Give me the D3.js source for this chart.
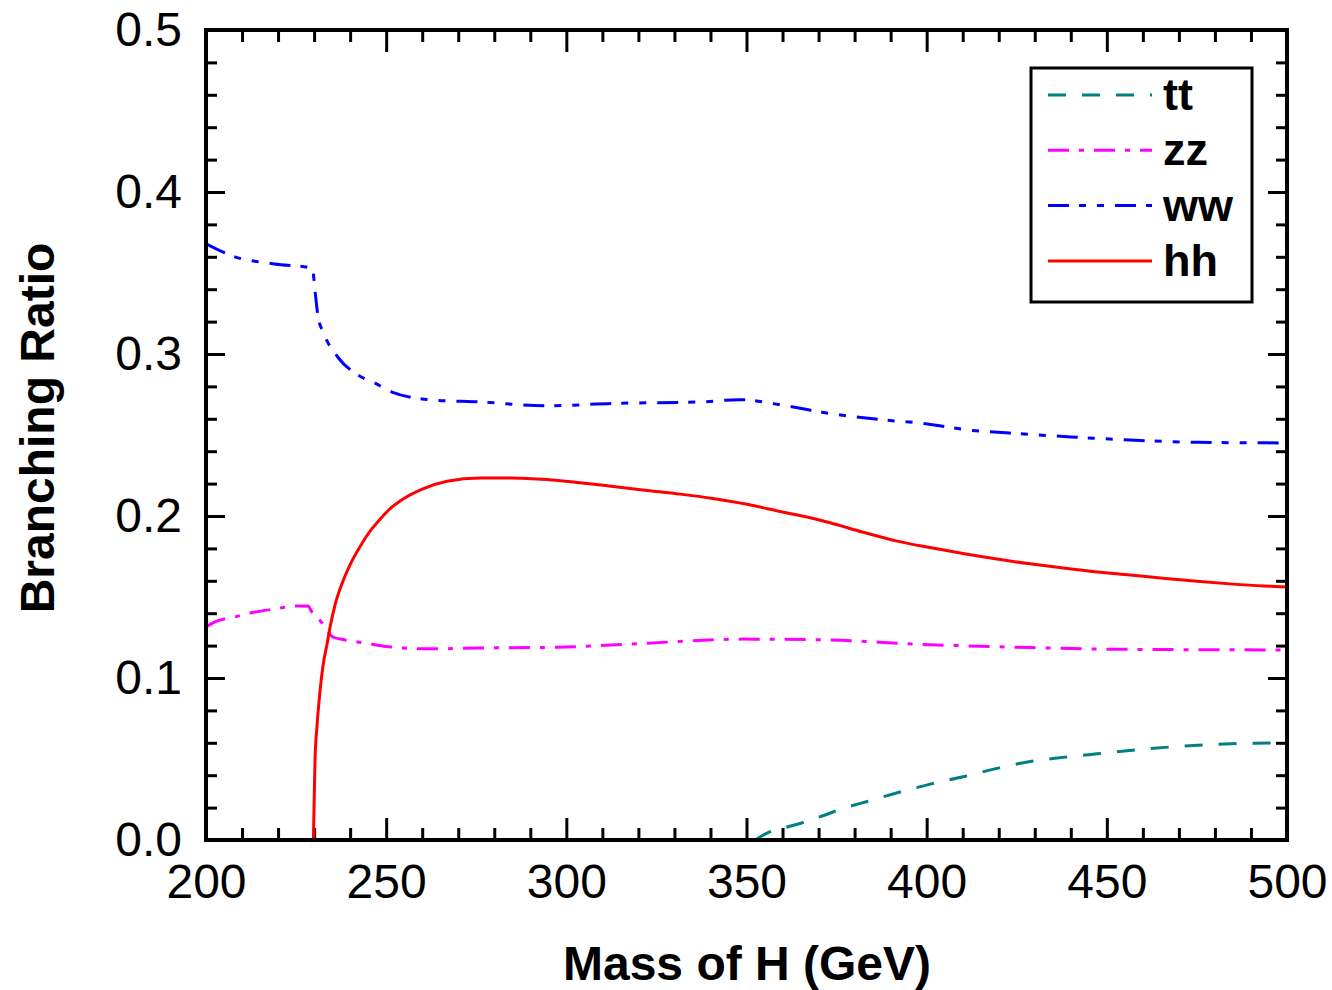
<!DOCTYPE html>
<html>
<head>
<meta charset="utf-8">
<script src="https://cdn.jsdelivr.net/npm/d3@7/dist/d3.min.js"></script>
<style>
  body { margin: 0; background: #fff; }
  text { font-family: "Liberation Sans", Arial, sans-serif; fill: #000; }
  .tick text { font-size: 48px; }
  .axis-title { font-size: 48px; font-weight: bold; }
  .legend-text { font-size: 45px; font-weight: bold; }
</style>
</head>
<body>
<div id="chart"></div>
<script>
// chart data
var ttMass = [352.4, 355.7, 361.3, 365.7, 371, 376.8, 383.5, 392.6, 401, 410.1, 419.5, 428.7, 437.9, 447.3, 457, 467.6, 479.5, 500];
var ttBR = [0, 0.0043, 0.008, 0.0108, 0.0148, 0.0195, 0.0238, 0.0296, 0.0345, 0.039, 0.0442, 0.0485, 0.051, 0.0532, 0.0554, 0.0574, 0.059, 0.0600];

var zzMass = [200, 202.5, 208, 213.6, 219.2, 224.7, 228.3, 229.4, 232.2, 233.6, 235.2, 238.6, 244.1, 249.7, 262.2, 276, 297.4, 322.4, 349, 373.2, 396, 425, 450, 500];
var zzBR = [0.1315, 0.1346, 0.1377, 0.1407, 0.1426, 0.1444, 0.1444, 0.1407, 0.134, 0.1296, 0.1253, 0.1235, 0.1216, 0.1195, 0.118, 0.1185, 0.119, 0.1215, 0.124, 0.1235, 0.121, 0.119, 0.1178, 0.1173];

var wwMass = [200, 208, 219, 229.5, 230.3, 231.1, 232.5, 236.6, 242.2, 246.9, 251.6, 263, 276, 294.6, 313, 337, 348, 361, 371, 388, 399, 411.5, 423, 440, 456.5, 475, 500];
var wwBR = [0.368, 0.360, 0.3556, 0.353, 0.338, 0.323, 0.3136, 0.298, 0.287, 0.282, 0.2765, 0.2716, 0.2704, 0.268, 0.2695, 0.2704, 0.2718, 0.268, 0.264, 0.2593, 0.2572, 0.2531, 0.2512, 0.2488, 0.2469, 0.2455, 0.2451];

var hhMass = [229.8, 230.25, 230.8, 231.6, 232.5, 233.6, 234.4, 235.8, 237.7, 240, 243, 246, 248.3, 251.1, 254.7, 260.2, 266.9, 276, 285.2, 294.6, 303.8, 313, 322.4, 331.6, 340.7, 350.2, 359.3, 368.5, 373.2, 382.3, 391.8, 400.9, 410.1, 419.5, 428.7, 437.9, 447.3, 456.5, 465.6, 475, 484.2, 493.4, 500];
var hhBR = [0, 0.049, 0.070, 0.091, 0.108, 0.121, 0.131, 0.145, 0.158, 0.170, 0.182, 0.192, 0.198, 0.2045, 0.2105, 0.2168, 0.2215, 0.2235, 0.2235, 0.2225, 0.2205, 0.2182, 0.2158, 0.2135, 0.2108, 0.2072, 0.2028, 0.1985, 0.1958, 0.190, 0.1845, 0.1805, 0.1768, 0.1734, 0.1705, 0.1679, 0.1655, 0.1636, 0.1616, 0.1597, 0.1581, 0.1568, 0.1562];

var seriesNames = ["tt", "zz", "ww", "hh"];
var seriesColors = ["#008080", "#ff00ff", "#0000ff", "#ff0000"];
var seriesDash = ["18,16", "21,10,5,10", "21,10,7,11,7,11", null];

var xMajorTicks = [200, 250, 300, 350, 400, 450, 500];
var yMajorTicks = [0.0, 0.1, 0.2, 0.3, 0.4, 0.5];

var svgWidth = 1332;
var svgHeight = 990;

var margin = { top: 30, right: 45, bottom: 150, left: 206 };
var width = svgWidth - margin.left - margin.right;
var height = svgHeight - margin.top - margin.bottom;

var svg = d3.select("#chart")
  .append("svg")
  .attr("width", svgWidth)
  .attr("height", svgHeight);

var chartGroup = svg.append("g")
  .attr("transform", `translate(${margin.left}, ${margin.top})`);

var xScale = d3.scaleLinear().domain([200, 500]).range([0, width]);
var yScale = d3.scaleLinear().domain([0, 0.5]).range([height, 0]);

var xMinorTicks = d3.range(200, 501, 10).filter(d => d % 50 !== 0);
var yMinorTicks = d3.range(0, 26).map(d => d * 0.02).filter((d, i) => i % 5 !== 0);

// inward ticks on all four sides
function tickAxis(axis, values, size, g) {
  g.call(axis.tickValues(values).tickSize(-size).tickFormat(""));
  g.select(".domain").remove();
  g.selectAll(".tick line").attr("stroke", "#000").attr("stroke-width", 3);
}

var bottomMinor = chartGroup.append("g").attr("transform", `translate(0, ${height})`);
tickAxis(d3.axisBottom(xScale), xMinorTicks, 12, bottomMinor);
var topMinor = chartGroup.append("g");
tickAxis(d3.axisTop(xScale), xMinorTicks, 12, topMinor);
var topMajor = chartGroup.append("g");
tickAxis(d3.axisTop(xScale), xMajorTicks, 22, topMajor);
var leftMinor = chartGroup.append("g");
tickAxis(d3.axisLeft(yScale), yMinorTicks, 11, leftMinor);
var rightMinor = chartGroup.append("g").attr("transform", `translate(${width}, 0)`);
tickAxis(d3.axisRight(yScale), yMinorTicks, 11, rightMinor);
var rightMajor = chartGroup.append("g").attr("transform", `translate(${width}, 0)`);
tickAxis(d3.axisRight(yScale), yMajorTicks, 19, rightMajor);

// labelled axes
var xAxis = chartGroup.append("g")
  .attr("transform", `translate(0, ${height})`)
  .call(d3.axisBottom(xScale).tickValues(xMajorTicks).tickSize(-22).tickPadding(24).tickFormat(d3.format("d")));
xAxis.select(".domain").remove();
xAxis.selectAll(".tick line").attr("stroke", "#000").attr("stroke-width", 3);
xAxis.selectAll(".tick text").attr("font-family", null).attr("font-size", null);

var yAxis = chartGroup.append("g")
  .call(d3.axisLeft(yScale).tickValues(yMajorTicks).tickSize(-19).tickPadding(24).tickFormat(d3.format(".1f")));
yAxis.select(".domain").remove();
yAxis.selectAll(".tick line").attr("stroke", "#000").attr("stroke-width", 3);
yAxis.selectAll(".tick text").attr("font-family", null).attr("font-size", null);

// clip curves to plot area
svg.append("defs").append("clipPath")
  .attr("id", "plot-clip")
  .append("rect")
  .attr("width", width)
  .attr("height", height);

var seriesData = [
  d3.zip(ttMass, ttBR),
  d3.zip(zzMass, zzBR),
  d3.zip(wwMass, wwBR),
  d3.zip(hhMass, hhBR)
];

var line = d3.line()
  .x(d => xScale(d[0]))
  .y(d => yScale(d[1]))
  .curve(d3.curveMonotoneX);

chartGroup.append("g")
  .attr("clip-path", "url(#plot-clip)")
  .selectAll("path")
  .data(seriesData)
  .enter()
  .append("path")
  .attr("d", line)
  .attr("fill", "none")
  .attr("stroke", (d, i) => seriesColors[i])
  .attr("stroke-width", 3)
  .attr("stroke-dasharray", (d, i) => seriesDash[i]);

// frame
chartGroup.append("rect")
  .attr("width", width)
  .attr("height", height)
  .attr("fill", "none")
  .attr("stroke", "#000")
  .attr("stroke-width", 4);

// axis titles
svg.append("text")
  .attr("class", "axis-title")
  .attr("x", 747)
  .attr("y", 980)
  .attr("text-anchor", "middle")
  .text("Mass of H (GeV)");

svg.append("text")
  .attr("class", "axis-title")
  .attr("transform", "translate(54, 428) rotate(-90)")
  .attr("text-anchor", "middle")
  .text("Branching Ratio");

// legend
var legend = svg.append("g")
  .attr("transform", "translate(1031, 68)");

legend.append("rect")
  .attr("width", 221)
  .attr("height", 234)
  .attr("fill", "#fff")
  .attr("stroke", "#000")
  .attr("stroke-width", 3);

var legendRows = legend.selectAll(".legend-row")
  .data(seriesNames)
  .enter()
  .append("g")
  .attr("class", "legend-row")
  .attr("transform", (d, i) => `translate(0, ${27 + i * 55.3})`);

legendRows.append("line")
  .attr("x1", 17)
  .attr("x2", 121)
  .attr("stroke", (d, i) => seriesColors[i])
  .attr("stroke-width", 3)
  .attr("stroke-dasharray", (d, i) => seriesDash[i]);

legendRows.append("text")
  .attr("class", "legend-text")
  .attr("x", 132)
  .attr("y", 15)
  .text(d => d);
</script>
</body>
</html>
